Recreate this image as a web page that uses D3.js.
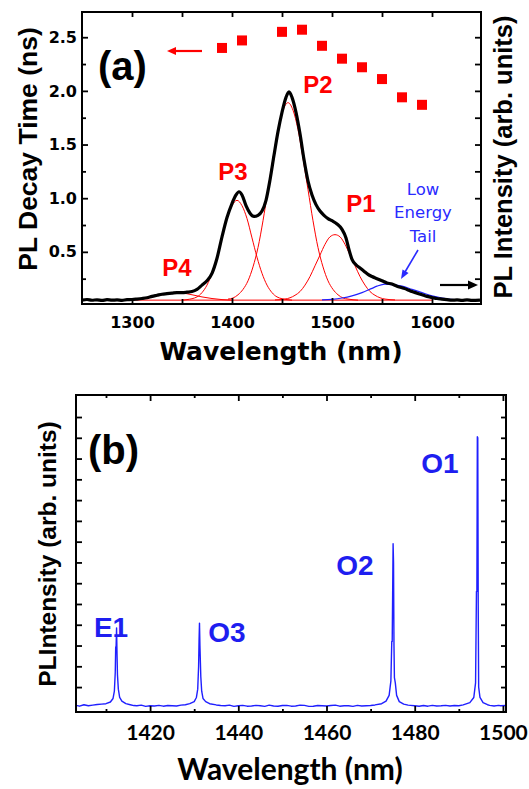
<!DOCTYPE html>
<html>
<head>
<meta charset="utf-8">
<script src="https://cdn.jsdelivr.net/npm/d3@7"></script>
<style>
  body { margin: 0; background: #fff; }
  svg { display: block; }
  .axis line { stroke: #000; stroke-width: 1.8; }
</style>
</head>
<body>
<script>
// ---------- panel (a) data ----------
// PL decay time (left axis)
var decayWl = [1390, 1410, 1450, 1470, 1490, 1510, 1530, 1550, 1570, 1590];
var decayNs = [2.40, 2.47, 2.55, 2.57, 2.42, 2.30, 2.22, 2.11, 1.94, 1.87];

// measured PL spectrum (right axis, arb. units)
var plWl = [1250, 1255, 1260, 1265, 1270, 1275, 1280, 1285, 1290, 1295, 1300, 1305, 1310, 1315, 1320,
  1325, 1330, 1335, 1340, 1345, 1350, 1355, 1360, 1365, 1370, 1375, 1380, 1385, 1390, 1395, 1400,
  1404, 1407, 1410, 1414, 1418, 1422, 1426, 1430, 1434, 1438, 1442, 1446, 1450, 1454, 1457, 1460,
  1464, 1468, 1472, 1476, 1480, 1484, 1488, 1492, 1496, 1500, 1505, 1510, 1514, 1517, 1520, 1524,
  1528, 1532, 1536, 1540, 1545, 1550, 1555, 1560, 1565, 1570, 1575, 1580, 1585, 1590, 1595, 1600,
  1605, 1610, 1615, 1620, 1625, 1630, 1635, 1640, 1648];
var plInt = [0.05, 0.056, 0.049, 0.053, 0.047, 0.054, 0.05, 0.052, 0.048, 0.055, 0.056, 0.06, 0.065, 0.072, 0.085,
  0.095, 0.105, 0.11, 0.115, 0.12, 0.12, 0.124, 0.13, 0.15, 0.19, 0.23, 0.30, 0.44, 0.64, 0.82, 0.95,
  1.03, 1.06, 1.03, 0.93, 0.86, 0.83, 0.84, 0.88, 0.98, 1.17, 1.40, 1.62, 1.80, 1.94, 1.99, 1.94,
  1.80, 1.60, 1.36, 1.16, 1.03, 0.94, 0.88, 0.84, 0.81, 0.79, 0.76, 0.71, 0.63, 0.52, 0.43, 0.38,
  0.35, 0.32, 0.29, 0.27, 0.25, 0.23, 0.21, 0.20, 0.18, 0.165, 0.15, 0.13, 0.115, 0.10, 0.085, 0.075,
  0.065, 0.06, 0.055, 0.05, 0.052, 0.048, 0.053, 0.047, 0.05];

// fitted components (red) and low energy tail (blue)
var p4Wl = [1300, 1310, 1320, 1330, 1340, 1345, 1350, 1360, 1370, 1380, 1390, 1400];
var p4Int = [0.055, 0.065, 0.08, 0.10, 0.117, 0.12, 0.117, 0.10, 0.08, 0.065, 0.055, 0.05];
var p3Wl = [1350, 1355, 1365, 1370, 1375, 1380, 1385, 1390, 1395, 1400, 1405, 1410, 1415, 1420, 1425,
  1430, 1435, 1440, 1445, 1455, 1460];
var p3Int = [0.05, 0.055, 0.08, 0.12, 0.19, 0.30, 0.45, 0.63, 0.81, 0.93, 0.98, 0.93, 0.81, 0.63, 0.45,
  0.30, 0.19, 0.12, 0.08, 0.055, 0.05];
var p2Wl = [1396, 1401, 1406, 1411, 1416, 1421, 1426, 1431, 1436, 1441, 1446, 1451, 1456, 1461, 1466,
  1471, 1476, 1481, 1486, 1491, 1496, 1501, 1506, 1511, 1516, 1526];
var p2Int = [0.06, 0.07, 0.10, 0.15, 0.23, 0.36, 0.54, 0.79, 1.08, 1.37, 1.64, 1.82, 1.89, 1.82, 1.64,
  1.37, 1.08, 0.79, 0.54, 0.36, 0.23, 0.15, 0.10, 0.07, 0.06, 0.05];
var p1Wl = [1443, 1453, 1458, 1463, 1468, 1473, 1478, 1483, 1488, 1493, 1498, 1503, 1508, 1513, 1518,
  1523, 1528, 1533, 1538, 1543, 1548, 1553, 1563];
var p1Int = [0.052, 0.06, 0.072, 0.095, 0.13, 0.19, 0.27, 0.37, 0.47, 0.57, 0.64, 0.66, 0.64, 0.57, 0.47,
  0.37, 0.27, 0.19, 0.13, 0.095, 0.072, 0.06, 0.052];
var tailWl = [1490, 1500, 1510, 1520, 1530, 1540, 1545, 1553, 1560, 1570, 1580, 1590, 1600, 1610, 1622];
var tailInt = [0.052, 0.058, 0.07, 0.09, 0.12, 0.16, 0.18, 0.20, 0.195, 0.18, 0.15, 0.12, 0.09, 0.07, 0.055];
var baseWl = [1300, 1600];
var baseInt = [0.05, 0.05];

// axis ticks
var aXMajor = [1300, 1400, 1500, 1600];
var aXMinor = [1350, 1450, 1550];
var aYMajor = [0.5, 1.0, 1.5, 2.0, 2.5];
var aYMinor = [0.25, 0.75, 1.25, 1.75, 2.25];

// ---------- panel (b) data ----------
var bWl = [1403.2, 1404, 1405, 1406, 1407, 1408, 1409, 1410, 1411, 1411.6, 1411.9, 1412.1, 1412.2, 1412.3,
  1412.4, 1412.5, 1412.6, 1412.8, 1413.1, 1413.6, 1414.5, 1415.5, 1416.3, 1417, 1418, 1419, 1420, 1421,
  1422, 1423, 1424, 1425, 1426, 1427, 1428, 1429, 1430, 1430.5, 1430.8, 1431.0, 1431.1, 1431.2, 1431.3,
  1431.5, 1431.7, 1432.0, 1432.6, 1433.5, 1435, 1436, 1437, 1438, 1439, 1440, 1441, 1442, 1443, 1444,
  1445, 1446, 1447, 1448, 1449, 1450, 1451, 1452, 1453, 1454, 1455, 1456, 1457, 1458, 1459, 1460,
  1461, 1462, 1463, 1464, 1465, 1466, 1467, 1468, 1469, 1470, 1471, 1472.5, 1473.5, 1474.2, 1474.6,
  1474.8, 1474.9, 1475.0, 1475.1, 1475.2, 1475.3, 1475.4, 1475.6, 1475.9, 1476.5, 1477.5, 1478.5, 1479,
  1480, 1481, 1482, 1483, 1484, 1485, 1486, 1487, 1488, 1489, 1490, 1491, 1492.5, 1493.4, 1493.8,
  1494.0, 1494.1, 1494.2, 1494.3, 1494.4, 1494.5, 1494.8, 1495.5, 1496.5, 1497, 1498, 1499, 1499.5, 1500.7];
var bInt = [0.12, 0.08, 0.15, 0.10, 0.13, 0.16, 0.18, 0.20, 0.28, 0.45, 0.80, 1.70, 2.90, 3.00,
  3.85, 2.60, 1.60, 0.90, 0.50, 0.32, 0.20, 0.15, 0.11, 0.10, 0.13, 0.07, 0.10, 0.09,
  0.12, 0.08, 0.11, 0.10, 0.09, 0.13, 0.15, 0.20, 0.30, 0.50, 0.90, 2.00, 3.20, 4.08, 3.00,
  1.50, 0.80, 0.45, 0.30, 0.20, 0.14, 0.11, 0.10, 0.13, 0.07, 0.10, 0.12, 0.08, 0.09, 0.12,
  0.10, 0.07, 0.13, 0.09, 0.08, 0.11, 0.12, 0.08, 0.09, 0.13, 0.12, 0.07, 0.08, 0.11, 0.10, 0.09,
  0.11, 0.13, 0.08, 0.10, 0.10, 0.07, 0.12, 0.09, 0.10, 0.11, 0.14, 0.20, 0.32, 0.60, 1.30,
  3.20, 3.20, 5.50, 7.90, 7.00, 3.00, 1.45, 1.20, 0.60, 0.30, 0.18, 0.13, 0.12,
  0.10, 0.08, 0.11, 0.08, 0.12, 0.09, 0.10, 0.12, 0.09, 0.11, 0.10, 0.14, 0.25, 0.50, 1.20,
  5.60, 5.60, 13.05, 13.0, 5.00, 1.00, 0.50, 0.25, 0.15, 0.12, 0.09, 0.12, 0.10, 0.11];

var bXMajor = [1420, 1440, 1460, 1480, 1500];
var bXMinor = [1410, 1430, 1450, 1470, 1490];
var bYTicks = d3.range(1, 15);

var red = "#ff0000", blue = "#1f1fff";

var svg = d3.select("body").append("svg")
    .attr("width", 529)
    .attr("height", 789);

function arrowHead(g, x, y, dir, len, half, color) {
  // dir = unit vector the arrow points along
  var px = -dir[1], py = dir[0];
  var bx = x - dir[0] * len, by = y - dir[1] * len;
  g.append("path")
    .attr("d", "M" + x + "," + y + "L" + (bx + px * half) + "," + (by + py * half) +
               "L" + (bx - px * half) + "," + (by - py * half) + "Z")
    .attr("fill", color);
}

function ticks(g, axis) {
  g.attr("class", "axis").call(axis);
  g.select(".domain").remove();
  return g;
}

// ****************** Panel (a) ******************
var xA = d3.scaleLinear().domain([1250, 1649]).range([82, 481]);
var yA = d3.scaleLinear().domain([0.014, 2.735]).range([304, 12]);
var yR = d3.scaleLinear().domain([0.014, 2.735]).range([304, 12]);

var ga = svg.append("g");

var lineA = d3.line()
    .x(function(d) { return xA(d[0]); })
    .y(function(d) { return yR(d[1]); })
    .curve(d3.curveMonotoneX);

function zipA(w, v) { return w.map(function(d, i) { return [d, v[i]]; }); }

// fit components
[[baseWl, baseInt], [p4Wl, p4Int], [p3Wl, p3Int], [p2Wl, p2Int], [p1Wl, p1Int]].forEach(function(s) {
  ga.append("path")
    .attr("d", lineA(zipA(s[0], s[1])))
    .attr("fill", "none")
    .attr("stroke", red)
    .attr("stroke-width", 1);
});
ga.append("path")
  .attr("d", lineA(zipA(tailWl, tailInt)))
  .attr("fill", "none")
  .attr("stroke", "#2020ff")
  .attr("stroke-width", 1.2);

// measured spectrum
ga.append("path")
  .attr("d", lineA(zipA(plWl, plInt)))
  .attr("fill", "none")
  .attr("stroke", "#000")
  .attr("stroke-width", 3.2)
  .attr("stroke-linejoin", "round");

// decay time squares
ga.selectAll("rect.sq")
  .data(zipA(decayWl, decayNs))
  .enter().append("rect")
    .attr("class", "sq")
    .attr("x", function(d) { return xA(d[0]) - 5; })
    .attr("y", function(d) { return yA(d[1]) - 5; })
    .attr("width", 10)
    .attr("height", 10)
    .attr("fill", red);

// frame and ticks
ga.append("rect")
  .attr("x", 82).attr("y", 12).attr("width", 399).attr("height", 292)
  .attr("fill", "none").attr("stroke", "#000").attr("stroke-width", 2);

var aTickFont = "'DejaVu Sans', sans-serif";

ticks(ga.append("g").attr("transform", "translate(0,304)"),
  d3.axisBottom(xA).tickValues(aXMajor).tickSize(-6).tickPadding(12.5).tickFormat(d3.format("d")));
ticks(ga.append("g").attr("transform", "translate(0,304)"),
  d3.axisBottom(xA).tickValues(aXMinor).tickSize(-5).tickFormat(""));
ticks(ga.append("g").attr("transform", "translate(0,12)"),
  d3.axisTop(xA).tickValues(aXMajor.concat(aXMinor)).tickSize(-5).tickFormat(""));
ticks(ga.append("g").attr("transform", "translate(82,0)"),
  d3.axisLeft(yA).tickValues(aYMajor).tickSize(-6).tickPadding(5).tickFormat(d3.format(".1f")));
ticks(ga.append("g").attr("transform", "translate(82,0)"),
  d3.axisLeft(yA).tickValues(aYMinor).tickSize(-4).tickFormat(""));
ticks(ga.append("g").attr("transform", "translate(481,0)"),
  d3.axisRight(yR).tickValues(aYMajor.concat(aYMinor)).tickSize(-6).tickFormat(""));

ga.selectAll(".axis text")
  .attr("fill", "#000")
  .style("font-family", aTickFont)
  .style("font-weight", "bold")
  .style("font-size", "16px");

// axis titles
ga.append("text")
  .attr("x", 281).attr("y", 360)
  .attr("text-anchor", "middle")
  .style("font-family", aTickFont).style("font-weight", "bold").style("font-size", "25px")
  .text("Wavelength (nm)");
ga.append("text")
  .attr("transform", "translate(37,149) rotate(-90)")
  .attr("text-anchor", "middle")
  .style("font-family", "'Liberation Sans', Arial, sans-serif").style("font-weight", "bold").style("font-size", "26.5px")
  .text("PL Decay Time (ns)");
ga.append("text")
  .attr("transform", "translate(512,157) rotate(-90)")
  .attr("text-anchor", "middle")
  .style("font-family", "'Liberation Sans', Arial, sans-serif").style("font-weight", "bold").style("font-size", "25.5px")
  .text("PL Intensity (arb. units)");

ga.append("text")
  .attr("x", 98).attr("y", 80)
  .style("font-family", "'Liberation Sans', Arial, sans-serif").style("font-weight", "bold").style("font-size", "40px")
  .text("(a)");

// peak labels
var pLabels = [["P1", 361, 212], ["P2", 318, 93], ["P3", 233, 180], ["P4", 177, 276]];
ga.selectAll("text.plab")
  .data(pLabels)
  .enter().append("text")
    .attr("class", "plab")
    .attr("x", function(d) { return d[1]; })
    .attr("y", function(d) { return d[2]; })
    .attr("text-anchor", "middle")
    .attr("fill", red)
    .style("font-family", "'Liberation Sans', Arial, sans-serif")
    .style("font-weight", "bold")
    .style("font-size", "24px")
    .text(function(d) { return d[0]; });

// low energy tail note
var noteLines = [["Low", 195], ["Energy", 218], ["Tail", 242]];
ga.selectAll("text.note")
  .data(noteLines)
  .enter().append("text")
    .attr("class", "note")
    .attr("x", 423)
    .attr("y", function(d) { return d[1]; })
    .attr("text-anchor", "middle")
    .attr("fill", "#2a2aff")
    .style("font-family", "'DejaVu Sans', sans-serif")
    .style("font-size", "16.5px")
    .text(function(d) { return d[0]; });

// arrows
ga.append("line").attr("x1", 202).attr("y1", 51).attr("x2", 174).attr("y2", 51)
  .attr("stroke", red).attr("stroke-width", 2.2);
arrowHead(ga, 167, 51, [-1, 0], 9, 4, red);

ga.append("line").attr("x1", 440).attr("y1", 285).attr("x2", 470).attr("y2", 285)
  .attr("stroke", "#000").attr("stroke-width", 2.2);
arrowHead(ga, 478, 285, [1, 0], 10, 4.5, "#000");

var bd = [401 - 418, 279 - 250], bl = Math.sqrt(bd[0] * bd[0] + bd[1] * bd[1]);
ga.append("line").attr("x1", 418).attr("y1", 250).attr("x2", 405).attr("y2", 272)
  .attr("stroke", "#2a2aff").attr("stroke-width", 1.6);
arrowHead(ga, 401, 279, [bd[0] / bl, bd[1] / bl], 9, 3.5, "#2a2aff");

// ****************** Panel (b) ******************
var xB = d3.scaleLinear().domain([1403.2, 1500.7]).range([76, 506]);
var yB = d3.scaleLinear().domain([-0.2, 15.06]).range([712, 395]);

var gb = svg.append("g");

var lineB = d3.line()
    .x(function(d) { return xB(d[0]); })
    .y(function(d) { return yB(d[1]); });

gb.append("path")
  .attr("d", lineB(zipA(bWl, bInt)))
  .attr("fill", "none")
  .attr("stroke", blue)
  .attr("stroke-width", 1.4)
  .attr("stroke-linejoin", "round");

gb.append("rect")
  .attr("x", 76).attr("y", 395).attr("width", 430).attr("height", 317)
  .attr("fill", "none").attr("stroke", "#000").attr("stroke-width", 2);

ticks(gb.append("g").attr("transform", "translate(0,712)"),
  d3.axisBottom(xB).tickValues(bXMajor).tickSize(-6).tickPadding(13).tickFormat(d3.format("d")));
ticks(gb.append("g").attr("transform", "translate(0,712)"),
  d3.axisBottom(xB).tickValues(bXMinor).tickSize(-3).tickFormat(""));
ticks(gb.append("g").attr("transform", "translate(0,395)"),
  d3.axisTop(xB).tickValues(bXMajor).tickSize(-6).tickFormat(""));
ticks(gb.append("g").attr("transform", "translate(0,395)"),
  d3.axisTop(xB).tickValues(bXMinor).tickSize(-3).tickFormat(""));
ticks(gb.append("g").attr("transform", "translate(76,0)"),
  d3.axisLeft(yB).tickValues(bYTicks).tickSize(-6).tickFormat(""));
ticks(gb.append("g").attr("transform", "translate(506,0)"),
  d3.axisRight(yB).tickValues(bYTicks).tickSize(-5).tickFormat(""));

gb.selectAll(".axis text")
  .attr("fill", "#000")
  .style("font-family", "Lato, sans-serif")
  .style("font-weight", "bold")
  .style("font-size", "21px");

gb.append("text")
  .attr("x", 290).attr("y", 780)
  .attr("text-anchor", "middle")
  .style("font-family", "Lato, sans-serif").style("font-weight", "bold").style("font-size", "30px")
  .text("Wavelength (nm)");
gb.append("text")
  .attr("transform", "translate(56,554) rotate(-90)")
  .attr("text-anchor", "middle")
  .style("font-family", "'Liberation Sans', Arial, sans-serif").style("font-weight", "bold").style("font-size", "24.5px")
  .text("PLIntensity (arb. units)");

gb.append("text")
  .attr("x", 88).attr("y", 464)
  .style("font-family", "'Liberation Sans', Arial, sans-serif").style("font-weight", "bold").style("font-size", "40px")
  .text("(b)");

var oLabels = [["O1", 440, 473], ["O2", 355, 575], ["E1", 111, 637], ["O3", 227, 642]];
gb.selectAll("text.olab")
  .data(oLabels)
  .enter().append("text")
    .attr("class", "olab")
    .attr("x", function(d) { return d[1]; })
    .attr("y", function(d) { return d[2]; })
    .attr("text-anchor", "middle")
    .attr("fill", "#1e1ef0")
    .style("font-family", "'Liberation Sans', Arial, sans-serif")
    .style("font-weight", "bold")
    .style("font-size", "28px")
    .text(function(d) { return d[0]; });
</script>
</body>
</html>
